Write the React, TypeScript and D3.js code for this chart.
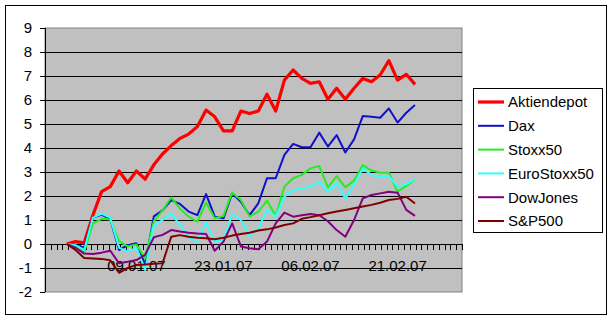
import React from "react";
import * as d3 from "d3";

const seriesNames = ["Aktiendepot", "Dax", "Stoxx50", "EuroStoxx50", "DowJones", "S&P500"];
const seriesColors = ["#FF0000", "#1010CC", "#22EE22", "#33FFFF", "#800080", "#800000"];
const seriesWidths = [3.2, 2, 2, 2, 2, 2];

const aktiendepot = [0, 0.1, 0.05, 1.2, 2.18, 2.39, 3.04, 2.55, 3.04, 2.7, 3.3, 3.75, 4.1, 4.4, 4.58, 4.89, 5.58, 5.3, 4.71, 4.71, 5.54, 5.44, 5.54, 6.24, 5.54, 6.83, 7.25, 6.9, 6.69, 6.76, 6.03, 6.49, 6.03, 6.49, 6.9, 6.76, 7.04, 7.64, 6.83, 7.07, 6.65];
const dax = [0, -0.05, -0.15, 1.1, 1.22, 1.05, -0.25, -0.05, 0.03, -0.85, 1.15, 1.4, 1.83, 1.67, 1.35, 1.2, 2.08, 1.14, 1.07, 2.11, 1.76, 1.2, 1.69, 2.74, 2.74, 3.71, 4.17, 4.03, 4.03, 4.64, 4.06, 4.54, 3.81, 4.36, 5.33, 5.3, 5.26, 5.65, 5.06, 5.47, 5.79];
const stoxx50 = [0, -0.1, -0.35, 0.85, 1.05, 1.02, 0.12, -0.1, -0.02, -0.6, 0.95, 1.4, 1.94, 1.47, 1.14, 0.93, 1.72, 1.07, 1.17, 2.15, 1.83, 1.14, 1.35, 1.81, 1.17, 2.39, 2.74, 2.88, 3.15, 3.25, 2.36, 2.83, 2.36, 2.64, 3.29, 3.06, 2.97, 2.97, 2.18, 2.42, 2.69];
const euroStoxx50 = [0, -0.05, -0.25, 1.1, 1.26, 1.1, -0.15, -0.32, -0.16, -1.08, 0.78, 1.0, 1.27, 0.8, 0.3, 0.1, 0.89, 0.1, 0.17, 1.25, 1.0, 0.33, 0.65, 1.42, 1.14, 1.97, 2.25, 2.32, 2.39, 2.6, 2.18, 2.53, 1.9, 2.46, 3.15, 2.88, 2.78, 2.83, 2.39, 2.5, 2.69];
const dowJones = [0, -0.15, -0.4, -0.42, -0.36, -0.28, -0.8, -0.74, -0.67, -0.45, 0.28, 0.38, 0.58, 0.52, 0.47, 0.44, 0.42, -0.28, 0.1, 0.86, -0.1, -0.18, -0.22, 0.1, 0.86, 1.31, 1.14, 1.2, 1.25, 1.2, 0.95, 0.58, 0.3, 1.0, 1.9, 2.04, 2.11, 2.18, 2.14, 1.42, 1.17];
const sp500 = [0, -0.25, -0.58, -0.6, -0.62, -0.68, -1.2, -1.0, -0.87, -0.85, -0.82, -0.8, 0.3, 0.37, 0.3, 0.26, 0.24, 0.2, 0.26, 0.35, 0.42, 0.47, 0.56, 0.61, 0.69, 0.79, 0.86, 1.05, 1.12, 1.2, 1.28, 1.35, 1.42, 1.49, 1.56, 1.63, 1.72, 1.83, 1.88, 1.97, 1.69];

const dateLabels = ["09.01.07", "23.01.07", "06.02.07", "21.02.07"];
const dateLabelIndex = [8, 18, 28, 38];
const yTicks = [9, 8, 7, 6, 5, 4, 3, 2, 1, 0, -1, -2];

const allSeries = [aktiendepot, dax, stoxx50, euroStoxx50, dowJones, sp500];

const W = 611;
const H = 320;
const plot = { left: 45, right: 462, top: 28, bottom: 292 };
const font = "'Liberation Sans', Arial, Helvetica, sans-serif";

export default function App() {
  const x = d3.scaleLinear().domain([-2.5, 45.4]).range([plot.left, plot.right]);
  const y = d3.scaleLinear().domain([-2, 9]).range([plot.bottom, plot.top]);
  const line = d3
    .line<number>()
    .x((_, i) => x(i))
    .y((d) => y(d));
  const tickStep = (45.4 + 2.5) / 72;
  const xTicks = d3.range(0, 73).map((k) => -2.5 + k * tickStep);

  const legend = { x: 473, y: 88, w: 129, h: 144 };
  const ly = d3
    .scalePoint<string>()
    .domain(seriesNames)
    .range([legend.y + 14, legend.y + legend.h - 11]);

  return (
    <svg
      width={W}
      height={H}
      style={{ position: "absolute", left: 0, top: 0, display: "block" }}
      fontFamily={font}
    >
      <rect x={0} y={0} width={W} height={H} fill="#fff" />
      <rect x={5.5} y={5.5} width={601} height={309} fill="#fff" stroke="#000" strokeWidth={1} />
      <rect
        x={plot.left}
        y={plot.top}
        width={plot.right - plot.left}
        height={plot.bottom - plot.top}
        fill="#C0C0C0"
        stroke="#808080"
        strokeWidth={1}
      />
      {yTicks.map((t) => (
        <g key={t}>
          {t !== -2 && t !== 9 && (
            <line x1={plot.left} x2={plot.right} y1={Math.round(y(t)) + 0.5} y2={Math.round(y(t)) + 0.5} stroke="#000" strokeWidth={1} />
          )}
          <line x1={40} x2={plot.left} y1={Math.round(y(t)) + 0.5} y2={Math.round(y(t)) + 0.5} stroke="#000" strokeWidth={1} />
          <text x={32} y={y(t)} dy="0.36em" textAnchor="end" fontSize={15} fill="#000">
            {t}
          </text>
        </g>
      ))}
      <line x1={plot.left + 0.5} x2={plot.left + 0.5} y1={plot.top} y2={plot.bottom} stroke="#000" strokeWidth={1} />
      {xTicks.map((t, k) => (
        <line
          key={k}
          x1={Math.round(x(t)) + 0.5}
          x2={Math.round(x(t)) + 0.5}
          y1={y(0)}
          y2={y(0) + 6}
          stroke="#000"
          strokeWidth={1}
        />
      ))}
      {dateLabels.map((lab, i) => (
        <text key={lab} x={x(dateLabelIndex[i])} y={y(-1)} dy="0.2em" textAnchor="middle" fontSize={15} fill="#000">
          {lab}
        </text>
      ))}
      {allSeries.map((s, i) => (
        <path
          key={seriesNames[i]}
          d={line(s) || ""}
          fill="none"
          stroke={seriesColors[i]}
          strokeWidth={seriesWidths[i]}
          strokeLinejoin="round"
        />
      ))}
      <rect x={legend.x + 0.5} y={legend.y + 0.5} width={legend.w} height={legend.h} fill="#fff" stroke="#000" strokeWidth={1} />
      {seriesNames.map((n, i) => (
        <g key={n}>
          <line
            x1={legend.x + 5}
            x2={legend.x + 31}
            y1={ly(n)}
            y2={ly(n)}
            stroke={seriesColors[i]}
            strokeWidth={seriesWidths[i]}
          />
          <text x={legend.x + 35} y={ly(n)} dy="0.36em" fontSize={15} fill="#000">
            {n}
          </text>
        </g>
      ))}
    </svg>
  );
}
